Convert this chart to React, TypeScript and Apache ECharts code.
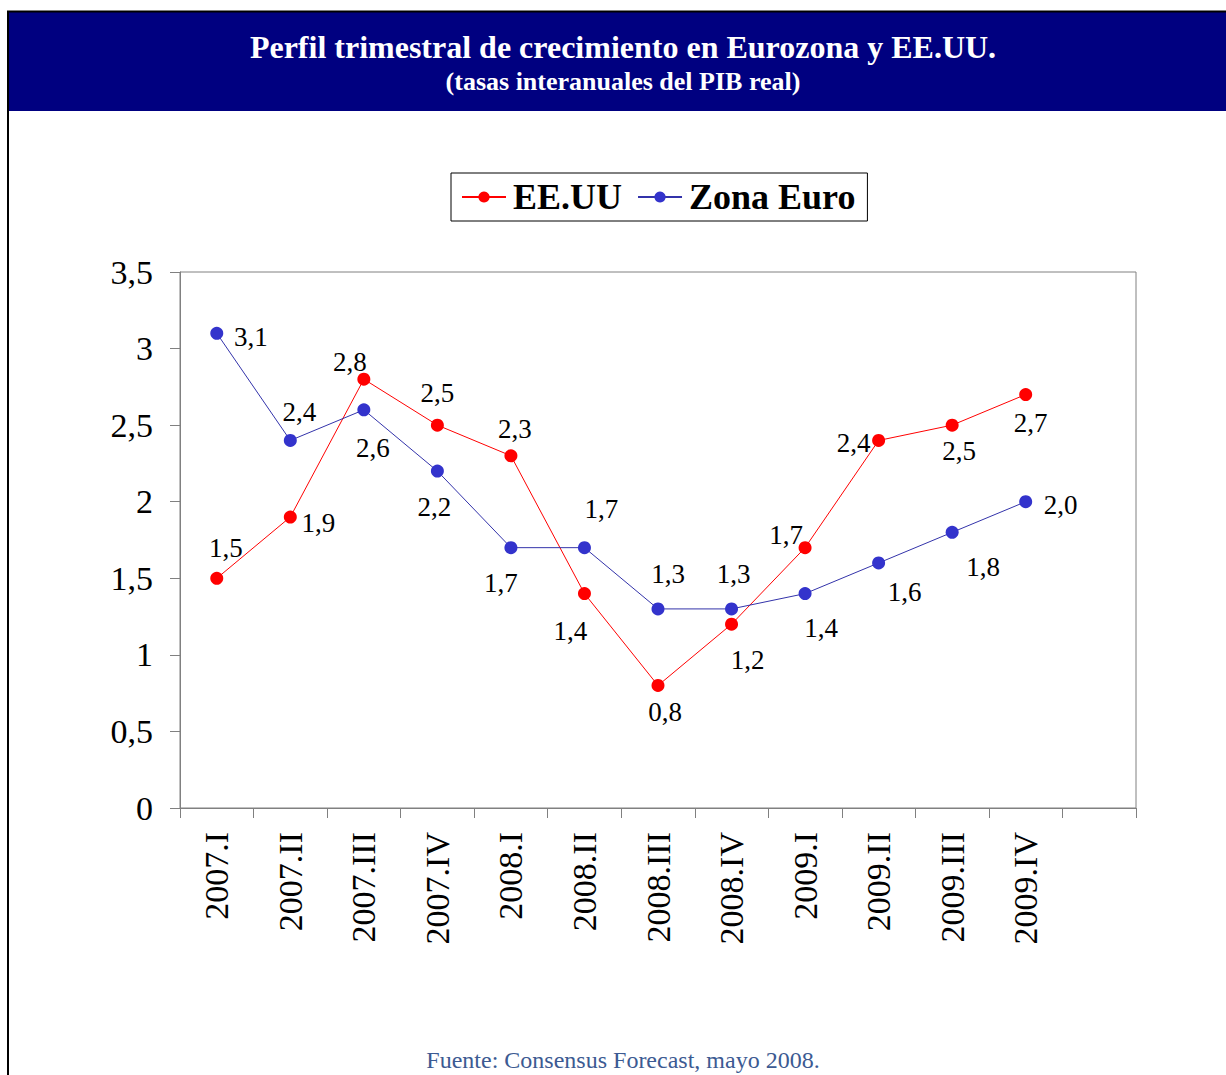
import React, { useEffect, useRef } from "react";
import * as echarts from "echarts";

const categories = [
  "2007.I", "2007.II", "2007.III", "2007.IV",
  "2008.I", "2008.II", "2008.III", "2008.IV",
  "2009.I", "2009.II", "2009.III", "2009.IV", "",
];
const usValues = [1.5, 1.9, 2.8, 2.5, 2.3, 1.4, 0.8, 1.2, 1.7, 2.4, 2.5, 2.7];
const euValues = [3.1, 2.4, 2.6, 2.2, 1.7, 1.7, 1.3, 1.3, 1.4, 1.6, 1.8, 2.0];
const yTicks = [0, 0.5, 1, 1.5, 2, 2.5, 3, 3.5];

// label placement (pixel offsets from the marker centre)
const usLabelOffsets = [
  [9, -30], [28, 6], [-14, -17], [0, -32], [4, -27], [-14, 37],
  [7, 27], [16, 36], [-19, -13], [-25, 3], [7, 26], [5, 28],
];
const euLabelOffsets = [
  [34, 4], [9, -28], [9, 38], [-3, 36], [-10, 35], [17, -39],
  [10, -35], [2, -35], [16, 34], [26, 29], [31, 35], [35, 3],
];

const SERIF = "'Liberation Serif', 'Times New Roman', Times, serif";
const fmt = (v: number) => v.toFixed(1).replace(".", ",");

export default function App() {
  const ref = useRef<HTMLDivElement>(null);
  useEffect(() => {
    if (!ref.current) return;
    const chart = echarts.init(ref.current, undefined, { renderer: "svg" });
    const mkData = (vals: number[], offs: number[][]) =>
      vals.map((v, i) => ({
        value: v,
        label: { offset: offs[i] },
      }));
    chart.setOption({
      animation: false,
      backgroundColor: "#ffffff",
      graphic: [
        { type: "rect", shape: { x: 8, y: 12, width: 1218, height: 99 }, style: { fill: "#000080" } },
        { type: "line", shape: { x1: 7, y1: 11.5, x2: 1226, y2: 11.5 }, style: { stroke: "#000", lineWidth: 2 } },
        { type: "line", shape: { x1: 8, y1: 11, x2: 8, y2: 1075 }, style: { stroke: "#000", lineWidth: 2 } },
        {
          type: "text", x: 623, y: 47,
          style: {
            text: "Perfil trimestral de crecimiento en Eurozona y EE.UU.",
            fill: "#ffffff", font: `bold 32px ${SERIF}`, align: "center", verticalAlign: "middle",
          },
        },
        {
          type: "text", x: 623, y: 81,
          style: {
            text: "(tasas interanuales del PIB real)",
            fill: "#ffffff", font: `bold 26px ${SERIF}`, align: "center", verticalAlign: "middle",
          },
        },
        {
          type: "text", x: 623, y: 1060,
          style: {
            text: "Fuente: Consensus Forecast, mayo 2008.",
            fill: "#3c5a92", font: `24px ${SERIF}`, align: "center", verticalAlign: "middle",
          },
        },
      ],
      legend: {
        left: 451,
        top: 173,
        padding: [6, 12, 6, 10],
        itemGap: 15,
        itemWidth: 44,
        itemHeight: 14,
        borderColor: "#000",
        borderWidth: 1,
        textStyle: {
          fontFamily: SERIF, fontWeight: "bold", fontSize: 36, color: "#000",
          padding: [0, 0, 0, 2],
        },
        data: ["EE.UU", "Zona Euro"],
      },
      grid: {
        left: 180, right: 90, top: 272, bottom: 267,
        show: true, borderColor: "#808080", borderWidth: 1,
      },
      xAxis: {
        type: "category",
        data: categories,
        boundaryGap: true,
        axisLine: { lineStyle: { color: "#808080" } },
        axisTick: { show: true, interval: 0, length: 10, lineStyle: { color: "#808080" } },
        axisLabel: {
          interval: 0, rotate: 90, margin: 24,
          fontFamily: SERIF, fontSize: 34, color: "#000",
        },
        splitLine: { show: false },
      },
      yAxis: {
        type: "value",
        min: yTicks[0],
        max: yTicks[yTicks.length - 1],
        interval: 0.5,
        axisLine: { show: true, lineStyle: { color: "#808080" } },
        axisTick: { show: true, length: 10, lineStyle: { color: "#808080" } },
        axisLabel: {
          margin: 27, fontFamily: SERIF, fontSize: 34, color: "#000",
          formatter: (v: number) => String(v).replace(".", ","),
        },
        splitLine: { show: false },
      },
      series: [
        {
          name: "EE.UU",
          type: "line",
          data: mkData(usValues, usLabelOffsets),
          symbol: "circle",
          symbolSize: 13,
          itemStyle: { color: "#ff0000" },
          lineStyle: { color: "#ff0000", width: 1 },
          label: {
            show: true, position: "inside", fontFamily: SERIF, fontSize: 27, color: "#000",
            formatter: (p: any) => fmt(p.value),
          },
          z: 3,
        },
        {
          name: "Zona Euro",
          type: "line",
          data: mkData(euValues, euLabelOffsets),
          symbol: "circle",
          symbolSize: 13,
          itemStyle: { color: "#3333cc" },
          lineStyle: { color: "#3333aa", width: 1 },
          label: {
            show: true, position: "inside", fontFamily: SERIF, fontSize: 27, color: "#000",
            formatter: (p: any) => fmt(p.value),
          },
          z: 4,
        },
      ],
    });
    return () => chart.dispose();
  }, []);
  return (
    <div
      ref={ref}
      style={{ position: "fixed", left: 0, top: 0, width: 1226, height: 1075, background: "#fff" }}
    />
  );
}
